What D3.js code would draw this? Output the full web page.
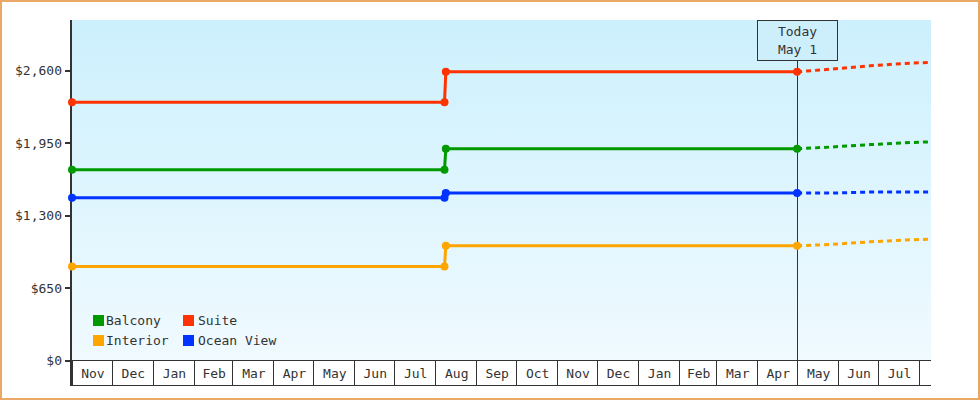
<!DOCTYPE html>
<html><head><meta charset="utf-8">
<script src="https://cdn.jsdelivr.net/npm/d3@7"></script>
<style>
html,body{margin:0;padding:0;background:#fff;}
text{font-family:"DejaVu Sans Mono",monospace;font-size:13px;fill:#333;}
</style></head>
<body><svg id="c" width="980" height="400"></svg>
<script>
// ---- data ----
const seriesNames = ["Balcony", "Suite", "Interior", "Ocean View"];
const seriesColors = ["#009900", "#ff3300", "#ffa500", "#0033ff"];
const histDates = ["2023-11-01", "2024-08-08", "2024-08-09", "2025-05-01"];
const balconyHist = [1711, 1711, 1899, 1899];
const suiteHist = [2318, 2318, 2590, 2590];
const interiorHist = [843, 843, 1029, 1029];
const oceanHist = [1460, 1460, 1502, 1502];
const fcDates = ["2025-05-01", "2025-05-26", "2025-06-25", "2025-07-25", "2025-08-10"];
const balconyFc = [1899, 1915, 1937, 1955, 1962];
const suiteFc = [2590, 2614, 2644, 2668, 2674];
const interiorFc = [1029, 1041, 1065, 1083, 1089];
const oceanFc = [1502, 1502, 1511, 1511, 1511];
const yTicks = [0, 650, 1300, 1950, 2600];
const domainStart = "2023-11-01", domainEnd = "2025-08-10", today = "2025-05-01";
const todayLabel = ["Today", "May 1"];

const hist = [balconyHist, suiteHist, interiorHist, oceanHist];
const fc = [balconyFc, suiteFc, interiorFc, oceanFc];
const P = d3.utcParse("%Y-%m-%d");

const svg = d3.select("#c");
const L = 72, R = 931, T = 20, B = 360.5;
const x = d3.scaleUtc().domain([P(domainStart), P(domainEnd)]).range([L, R]);
const y = d3.scaleLinear().domain([0, 3055]).range([B, T]);

// border
svg.append("rect").attr("x",1).attr("y",1).attr("width",978).attr("height",398)
  .attr("fill","#fff").attr("stroke","#eaa866").attr("stroke-width",2);

// background gradient
const defs = svg.append("defs");
const g = defs.append("linearGradient").attr("id","bg").attr("x1",0).attr("y1",0).attr("x2",0).attr("y2",1);
g.append("stop").attr("offset","0%").attr("stop-color","#ccf0fd");
g.append("stop").attr("offset","100%").attr("stop-color","#f0faff");
svg.append("rect").attr("x",L).attr("y",T).attr("width",R-L).attr("height",B-T).attr("fill","url(#bg)");

// x axis cells
const xa = svg.append("g").attr("shape-rendering","crispEdges");
const months = d3.utcMonths(P(domainStart), P(domainEnd));
xa.append("line").attr("x1",L).attr("x2",R).attr("y1",360.5).attr("y2",360.5).attr("stroke","#333");
xa.append("line").attr("x1",70).attr("x2",R).attr("y1",385.5).attr("y2",385.5).attr("stroke","#333");
months.forEach((m,i)=>{
  const x0 = Math.round(x(m))+0.5;
  xa.append("line").attr("x1",x0).attr("x2",x0).attr("y1",360).attr("y2",385).attr("stroke","#333");
  const next = i+1<months.length ? x(months[i+1]) : R;
  if (next - x(m) > 30) {
    xa.append("text").attr("x",(x(m)+next)/2+1).attr("y",378).attr("text-anchor","middle")
      .attr("fill","#222").text(d3.utcFormat("%b")(m));
  }
});

// y axis
const ya = svg.append("g").attr("shape-rendering","crispEdges");
ya.append("line").attr("x1",71).attr("x2",71).attr("y1",T).attr("y2",386).attr("stroke","#333").attr("stroke-width",2);
yTicks.forEach(v=>{
  const yy = y(v);
  ya.append("line").attr("x1",65).attr("x2",71).attr("y1",yy).attr("y2",yy).attr("stroke","#333").attr("stroke-width",2);
  ya.append("text").attr("x",62).attr("y",yy+4.5).attr("text-anchor","end").text(d3.format("$,")(v));
});

// today line + box
const tx = Math.round(x(P(today)))+0.5;
svg.append("line").attr("x1",tx).attr("x2",tx).attr("y1",60).attr("y2",385).attr("stroke","#333").attr("shape-rendering","crispEdges");
svg.append("rect").attr("x",tx-40).attr("y",20.5).attr("width",80).attr("height",40)
  .attr("fill","#cdeffc").attr("stroke","#333").attr("shape-rendering","crispEdges");
svg.append("text").attr("x",tx).attr("y",36).attr("text-anchor","middle").text(todayLabel[0]);
svg.append("text").attr("x",tx).attr("y",54).attr("text-anchor","middle").text(todayLabel[1]);

// lines
const line = d3.line().x(d=>x(d[0])).y(d=>y(d[1]));
const order = [3,2,0,1];
order.forEach(i=>{
  const fd = fcDates.map((d,k)=>[P(d), fc[i][k]]);
  svg.append("path").attr("d", line(fd)).attr("fill","none").attr("stroke",seriesColors[i])
    .attr("stroke-width",3).attr("stroke-dasharray","5,4").attr("stroke-dashoffset",-9);
});
order.forEach(i=>{
  const hd = histDates.map((d,k)=>[P(d), hist[i][k]]);
  svg.append("path").attr("d", line(hd)).attr("fill","none").attr("stroke",seriesColors[i]).attr("stroke-width",3);
  svg.selectAll(null).data(hd).enter().append("circle")
    .attr("cx",d=>x(d[0])).attr("cy",d=>y(d[1])).attr("r",4).attr("fill",seriesColors[i]);
});

// legend
const lg = svg.append("g");
const legPos = [[93,315],[183,315],[93,335],[183,335]];
const legTextX = [106, 198, 106, 198];
seriesNames.forEach((n,i)=>{
  lg.append("rect").attr("x",legPos[i][0]).attr("y",legPos[i][1]).attr("width",11).attr("height",11).attr("fill",seriesColors[i]);
  lg.append("text").attr("x",legTextX[i]).attr("y",legPos[i][1]+10).text(n);
});
</script></body></html>
